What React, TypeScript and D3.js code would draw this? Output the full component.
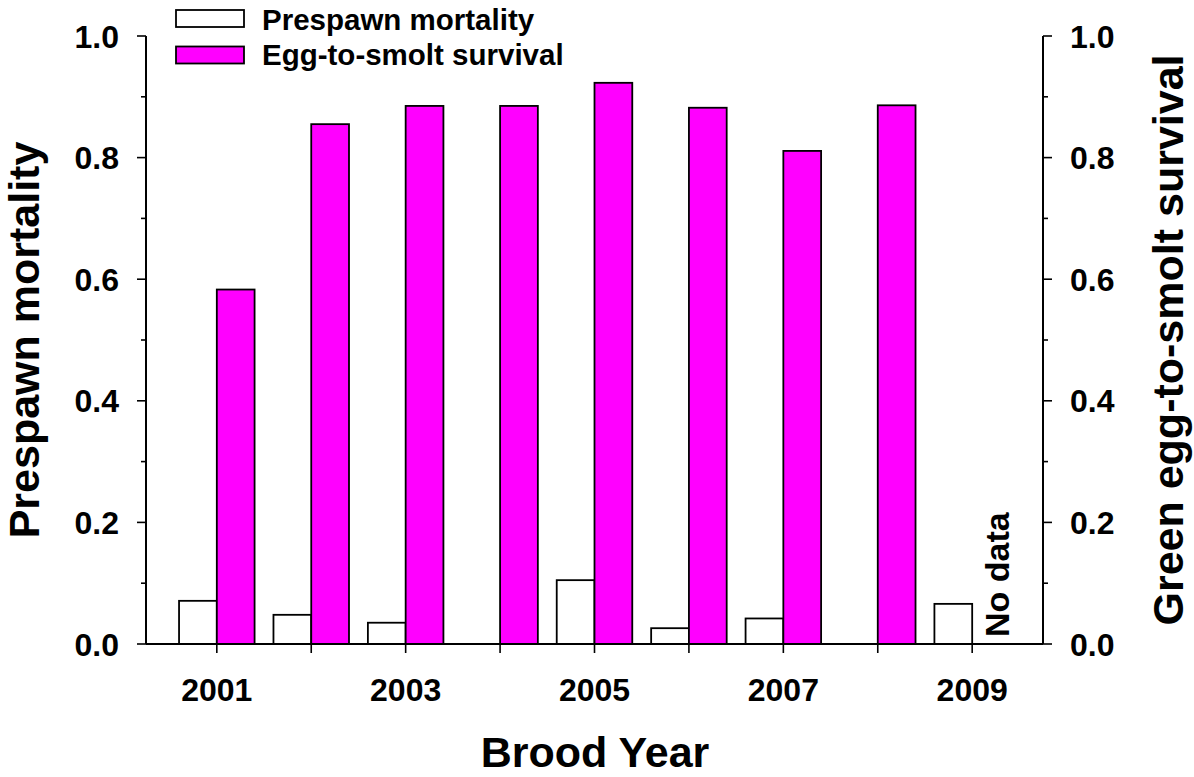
import React from "react";
import * as d3 from "d3";

const years = [2001, 2002, 2003, 2004, 2005, 2006, 2007, 2008, 2009];
const prespawnMortality: (number | null)[] = [0.071, 0.048, 0.035, null, 0.105, 0.026, 0.042, null, 0.066];
const eggToSmoltSurvival: (number | null)[] = [0.583, 0.855, 0.885, 0.885, 0.923, 0.882, 0.811, 0.886, null];
const xTickLabels = [2001, 2003, 2005, 2007, 2009];
const yMajorTicks = [0, 0.2, 0.4, 0.6, 0.8, 1.0];
const yMinorTicks = [0.1, 0.3, 0.5, 0.7, 0.9];
const seriesNames = ["Prespawn mortality", "Egg-to-smolt survival"];
const seriesColors = ["#ffffff", "#ff00ff"];

const W = 1194;
const H = 777;
const FONT = "'Liberation Sans', Arial, Helvetica, sans-serif";

export default function App() {
  const x = d3.scaleLinear().domain([2000.25, 2009.75]).range([146, 1043]);
  const yL = d3.scaleLinear().domain([0, 1]).range([644, 36]);
  const yR = d3.scaleLinear().domain([0, 1]).range([644, 36]);
  const barW = x(2001.4) - x(2001);
  const fmt = d3.format(".1f");

  return (
    <svg
      width={W}
      height={H}
      style={{ position: "absolute", left: 0, top: 0, background: "#fff" }}
      fontFamily={FONT}
      fontWeight="bold"
    >
      <rect x={0} y={0} width={W} height={H} fill="#fff" />
      {/* bars */}
      {years.map((yr, i) => {
        const pm = prespawnMortality[i];
        const es = eggToSmoltSurvival[i];
        return (
          <g key={yr}>
            {pm !== null && (
              <rect
                x={x(yr) - barW}
                y={yL(pm)}
                width={barW}
                height={yL(0) - yL(pm)}
                fill={seriesColors[0]}
                stroke="#000"
                strokeWidth={1.8}
              />
            )}
            {es !== null && (
              <rect
                x={x(yr)}
                y={yR(es)}
                width={barW}
                height={yR(0) - yR(es)}
                fill={seriesColors[1]}
                stroke="#000"
                strokeWidth={1.8}
              />
            )}
          </g>
        );
      })}

      {/* axes lines */}
      <line x1={x.range()[0]} x2={x.range()[1]} y1={yL(0)} y2={yL(0)} stroke="#000" strokeWidth={2} />
      <line x1={x.range()[0]} x2={x.range()[0]} y1={yL(0)} y2={yL(1)} stroke="#000" strokeWidth={2} />
      <line x1={x.range()[1]} x2={x.range()[1]} y1={yR(0)} y2={yR(1)} stroke="#000" strokeWidth={2} />

      {/* x ticks */}
      {years.map((yr) => (
        <line key={"xt" + yr} x1={x(yr)} x2={x(yr)} y1={yL(0)} y2={yL(0) + 9} stroke="#000" strokeWidth={1.6} />
      ))}
      {xTickLabels.map((yr) => (
        <text key={"xl" + yr} x={x(yr)} y={701} fontSize={32} textAnchor="middle" fill="#000">
          {yr}
        </text>
      ))}

      {/* left y ticks */}
      {yMajorTicks.map((v) => (
        <g key={"yl" + v}>
          <line x1={x.range()[0] - 9} x2={x.range()[0]} y1={yL(v)} y2={yL(v)} stroke="#000" strokeWidth={1.6} />
          <text x={119} y={yL(v)} dy="0.36em" fontSize={32} textAnchor="end" fill="#000">
            {fmt(v)}
          </text>
        </g>
      ))}
      {yMinorTicks.map((v) => (
        <line key={"ylm" + v} x1={x.range()[0] - 5} x2={x.range()[0]} y1={yL(v)} y2={yL(v)} stroke="#000" strokeWidth={1.6} />
      ))}

      {/* right y ticks */}
      {yMajorTicks.map((v) => (
        <g key={"yr" + v}>
          <line x1={x.range()[1]} x2={x.range()[1] + 9} y1={yR(v)} y2={yR(v)} stroke="#000" strokeWidth={1.6} />
          <text x={1070} y={yR(v)} dy="0.36em" fontSize={32} textAnchor="start" fill="#000">
            {fmt(v)}
          </text>
        </g>
      ))}
      {yMinorTicks.map((v) => (
        <line key={"yrm" + v} x1={x.range()[1]} x2={x.range()[1] + 5} y1={yR(v)} y2={yR(v)} stroke="#000" strokeWidth={1.6} />
      ))}

      {/* axis titles */}
      <text x={595} y={767} fontSize={43} textAnchor="middle" fill="#000">
        Brood Year
      </text>
      <text transform={`translate(39,${yL(0.5)}) rotate(-90)`} fontSize={43} textAnchor="middle" fill="#000">
        Prespawn mortality
      </text>
      <text transform={`translate(1183,${yR(0.5)}) rotate(-90)`} fontSize={43} textAnchor="middle" fill="#000">
        Green egg-to-smolt survival
      </text>

      {/* No data annotation */}
      <text transform={`translate(1009,637) rotate(-90)`} fontSize={34} textAnchor="start" fill="#000">
        No data
      </text>

      {/* legend */}
      {seriesNames.map((name, i) => (
        <g key={name}>
          <rect x={176} y={10 + i * 36.5} width={68} height={17} fill={seriesColors[i]} stroke="#000" strokeWidth={1.8} />
          <text x={262} y={29.5 + i * 35.5} fontSize={29.5} fill="#000">
            {name}
          </text>
        </g>
      ))}
    </svg>
  );
}
